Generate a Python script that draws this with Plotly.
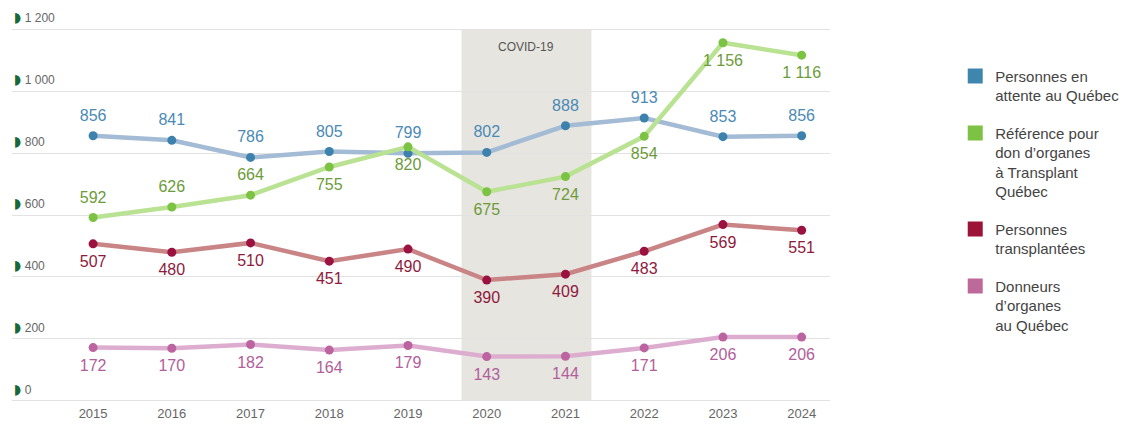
import plotly.graph_objects as go

years = [2015, 2016, 2017, 2018, 2019, 2020, 2021, 2022, 2023, 2024]
attente = [856, 841, 786, 805, 799, 802, 888, 913, 853, 856]
reference = [592, 626, 664, 755, 820, 675, 724, 854, 1156, 1116]
transplantees = [507, 480, 510, 451, 490, 390, 409, 483, 569, 551]
donneurs = [172, 170, 182, 164, 179, 143, 144, 171, 206, 206]

y_ticks = [0, 200, 400, 600, 800, 1000, 1200]
y_ticktext = ["0", "200", "400", "600", "800", "1 000", "1 200"]

names = [
    "Personnes en<br>attente au Québec",
    "Référence pour<br>don d’organes<br>à Transplant<br>Québec",
    "Personnes<br>transplantées",
    "Donneurs<br>d’organes<br>au Québec",
]


def fmt(v):
    return f"{v:,}".replace(",", " ")


series = [
    (attente, "#a3bbd4", "#3c82ad", "#4a8ab5", ["top center"] * 10, "#3f86ae"),
    (reference, "#b9e292", "#7cc243", "#6d9b3a", ["top center"] * 3 + ["bottom center"] * 7, "#7dc242"),
    (transplantees, "#c98585", "#9b1241", "#8e1a3d", ["bottom center"] * 10, "#9b1438"),
    (donneurs, "#ddadd0", "#bb64a0", "#b0609a", ["bottom center"] * 10, "#bd6a9b"),
]

fig = go.Figure()

for vals, lc, mc, tc, tp, leg in series:
    fig.add_trace(go.Scatter(
        x=years, y=vals, mode="lines+markers",
        line=dict(color=lc, width=4.5),
        marker=dict(color=mc, size=9),
        cliponaxis=False, showlegend=False, hoverinfo="skip",
    ))

for vals, lc, mc, tc, tp, leg in series:
    fig.add_trace(go.Scatter(
        x=years, y=vals, mode="markers+text",
        marker=dict(color=mc, size=16, opacity=0),
        text=[fmt(v) for v in vals], textposition=tp,
        textfont=dict(color=tc, size=16, family="Liberation Sans, Arial"),
        cliponaxis=False, showlegend=False, hoverinfo="skip",
    ))

for i, (vals, lc, mc, tc, tp, leg) in enumerate(series):
    fig.add_trace(go.Scatter(
        x=[None], y=[None], mode="markers", name=names[i],
        marker=dict(symbol="square", color=leg, size=15),
        legendgroup=f"g{i}", showlegend=True,
    ))

# y tick labels sit above their gridlines, with a small green half-disc
for v, t in zip(y_ticks, y_ticktext):
    fig.add_annotation(
        x=0, xref="paper", y=v, yref="y", xanchor="left", yanchor="middle",
        yshift=12, showarrow=False,
        text=f"<span style='color:#17693a;font-size:14px;font-family:DejaVu Sans'>◗</span> {t}",
        font=dict(size=12, color="#666666"),
    )

fig.add_shape(type="rect", xref="x", yref="y", x0=2019.68, x1=2021.33, y0=0, y1=1200,
              fillcolor="#e7e5e0", line=dict(width=0), layer="below")
fig.add_annotation(x=2020.5, y=1142, xref="x", yref="y", text="COVID-19", showarrow=False,
                   font=dict(size=12, color="#555555"))

fig.update_layout(
    width=1129, height=428,
    margin=dict(l=4, r=307, t=1, b=32),
    paper_bgcolor="white", plot_bgcolor="white",
    font=dict(family="Liberation Sans, Arial", color="#666666"),
    showlegend=True,
    legend=dict(
        xref="container", yref="container", x=0.839, y=0.879,
        xanchor="left", yanchor="top", valign="top",
        font=dict(size=15, color="#444444"),
        tracegroupgap=15, bgcolor="rgba(0,0,0,0)", maxheight=400,
    ),
    xaxis=dict(
        range=[2013.97, 2024.36], tickvals=years, ticktext=[str(y) for y in years],
        showgrid=False, zeroline=False, showline=False, automargin=False,
        tickfont=dict(size=13, color="#666666"),
    ),
    yaxis=dict(
        range=[-10, 1265], tickvals=y_ticks, showticklabels=False,
        showgrid=True, gridcolor="#e2e2e2", gridwidth=1, zeroline=False, showline=False,
        automargin=False,
    ),
)

fig.write_html("out.html")
